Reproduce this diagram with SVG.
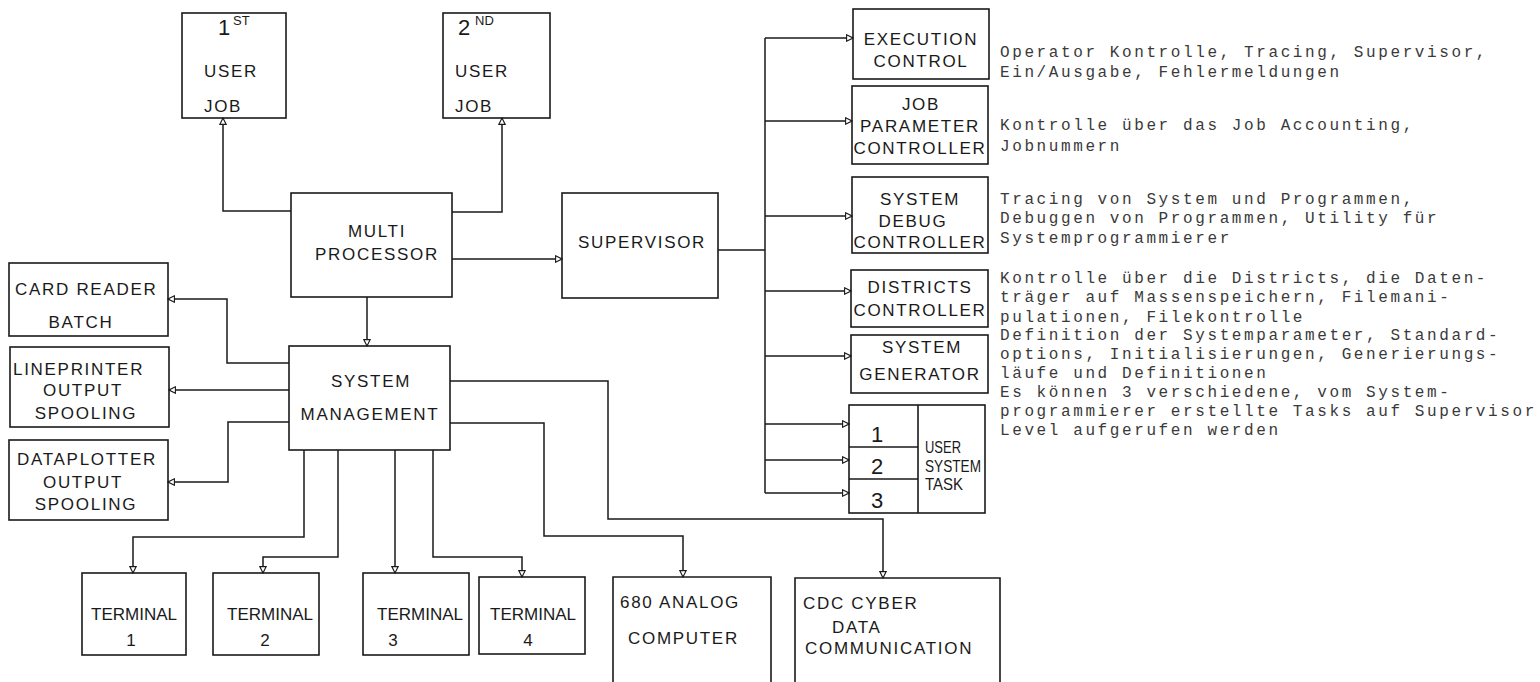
<svg xmlns="http://www.w3.org/2000/svg" width="1540" height="682" viewBox="0 0 1540 682">
<style>
.box{fill:none;stroke:#1a1a1a;stroke-width:1.6}
.ln{fill:none;stroke:#1a1a1a;stroke-width:1.5}
.ar{marker-end:url(#tri)}
.lb{font-family:"Liberation Sans",Arial,sans-serif;font-size:17px;letter-spacing:1.7px;fill:#1a1a1a}
.c{text-anchor:middle}
.tm{font-family:"Liberation Sans",Arial,sans-serif;font-size:17px;fill:#1a1a1a}
.num{font-family:"Liberation Sans",Arial,sans-serif;font-size:22px;fill:#1a1a1a}
.sup{font-family:"Liberation Sans",Arial,sans-serif;font-size:13px;fill:#1a1a1a}
.ds{font-family:"Liberation Mono","DejaVu Sans Mono",monospace;font-size:16px;letter-spacing:2.6px;fill:#3a3a3a}
</style>
<defs>
<marker id="tri" viewBox="0 0 10 10" refX="9" refY="5" markerWidth="9" markerHeight="8" markerUnits="userSpaceOnUse" orient="auto">
<path d="M1,1 L9,5 L1,9 z" fill="#fff" stroke="#1a1a1a" stroke-width="1.4"/>
</marker>
</defs>
<rect width="1540" height="682" fill="#fff"/>

<g id="connectors">
<path class="ln ar" d="M291,211 H223 V118"/>
<path class="ln ar" d="M452,212 H502 V118"/>
<path class="ln ar" d="M452,259 H562"/>
<path class="ln ar" d="M367,297 V346"/>
<path class="ln ar" d="M289,363 H227 V299 H168"/>
<path class="ln ar" d="M289,390 H169"/>
<path class="ln ar" d="M289,422 H228 V482 H168"/>
<path class="ln ar" d="M304,450 V537 H133 V573"/>
<path class="ln ar" d="M338,450 V557 H263 V573"/>
<path class="ln ar" d="M395,450 V573"/>
<path class="ln ar" d="M433,450 V557 H522 V577"/>
<path class="ln ar" d="M450,423 H544 V536 H683 V577"/>
<path class="ln ar" d="M450,381 H608 V519 H883 V578"/>
<path class="ln" d="M718,250 H765 M765,38 V493"/>
<path class="ln ar" d="M765,38 H853"/>
<path class="ln ar" d="M765,121 H852"/>
<path class="ln ar" d="M765,216 H852"/>
<path class="ln ar" d="M765,291 H851"/>
<path class="ln ar" d="M765,356 H851"/>
<path class="ln ar" d="M765,424 H849"/>
<path class="ln ar" d="M765,460 H849"/>
<path class="ln ar" d="M765,493 H849"/>
</g>

<g id="job1">
<rect class="box" x="182" y="13" width="104" height="105"/>
<text class="num" x="218" y="35">1</text><text class="sup" x="233" y="25">ST</text>
<text class="lb" x="204" y="77">USER</text>
<text class="lb" x="204" y="112">JOB</text>
</g>
<g id="job2">
<rect class="box" x="443" y="13" width="107" height="105"/>
<text class="num" x="458" y="35">2</text><text class="sup" x="475" y="25">ND</text>
<text class="lb" x="455" y="77">USER</text>
<text class="lb" x="455" y="112">JOB</text>
</g>
<g id="multiprocessor">
<rect class="box" x="291" y="193" width="161" height="104"/>
<text class="lb c" x="377" y="237">MULTI</text>
<text class="lb c" x="377" y="260">PROCESSOR</text>
</g>
<g id="supervisor">
<rect class="box" x="562" y="193" width="156" height="105"/>
<text class="lb c" x="642" y="248">SUPERVISOR</text>
</g>
<g id="systemmanagement">
<rect class="box" x="289" y="346" width="161" height="104"/>
<text class="lb c" x="371" y="387">SYSTEM</text>
<text class="lb c" x="370" y="420">MANAGEMENT</text>
</g>
<g id="cardreader">
<rect class="box" x="9" y="263" width="159" height="73"/>
<text class="lb" x="15" y="295">CARD READER</text>
<text class="lb c" x="81" y="328">BATCH</text>
</g>
<g id="lineprinter">
<rect class="box" x="10" y="347" width="159" height="80"/>
<text class="lb" x="13" y="375">LINEPRINTER</text>
<text class="lb c" x="83" y="396">OUTPUT</text>
<text class="lb c" x="86" y="419">SPOOLING</text>
</g>
<g id="dataplotter">
<rect class="box" x="9" y="440" width="159" height="80"/>
<text class="lb" x="17" y="465">DATAPLOTTER</text>
<text class="lb c" x="83" y="488">OUTPUT</text>
<text class="lb c" x="86" y="510">SPOOLING</text>
</g>
<g id="terminal1">
<rect class="box" x="82" y="573" width="104" height="82"/>
<text class="tm c" x="134" y="620">TERMINAL</text>
<text class="tm c" x="131" y="646">1</text>
</g>
<g id="terminal2">
<rect class="box" x="213" y="573" width="106" height="82"/>
<text class="tm c" x="270" y="620">TERMINAL</text>
<text class="tm c" x="265" y="646">2</text>
</g>
<g id="terminal3">
<rect class="box" x="363" y="573" width="106" height="82"/>
<text class="tm c" x="420" y="620">TERMINAL</text>
<text class="tm c" x="393" y="646">3</text>
</g>
<g id="terminal4">
<rect class="box" x="479" y="577" width="106" height="77"/>
<text class="tm c" x="533" y="620">TERMINAL</text>
<text class="tm c" x="528" y="646">4</text>
</g>
<g id="analog">
<path class="box" d="M613,690 V577 H771 V690"/>
<text class="lb" x="620" y="608">680 ANALOG</text>
<text class="lb" x="628" y="644">COMPUTER</text>
</g>
<g id="cdc">
<path class="box" d="M795,690 V578 H1000 V690"/>
<text class="lb" x="803" y="609">CDC CYBER</text>
<text class="lb" x="832" y="633">DATA</text>
<text class="lb" x="805" y="654">COMMUNICATION</text>
</g>
<g id="execution">
<rect class="box" x="853" y="9" width="136" height="70"/>
<text class="lb c" x="921" y="45">EXECUTION</text>
<text class="lb c" x="921" y="67">CONTROL</text>
</g>
<g id="jobparameter">
<rect class="box" x="852" y="86" width="136" height="78"/>
<text class="lb c" x="921" y="110">JOB</text>
<text class="lb c" x="920" y="132">PARAMETER</text>
<text class="lb c" x="920" y="154">CONTROLLER</text>
</g>
<g id="systemdebug">
<rect class="box" x="852" y="177" width="136" height="76"/>
<text class="lb c" x="920" y="205">SYSTEM</text>
<text class="lb c" x="913" y="227">DEBUG</text>
<text class="lb c" x="920" y="248">CONTROLLER</text>
</g>
<g id="districts">
<rect class="box" x="851" y="270" width="137" height="57"/>
<text class="lb c" x="920" y="293">DISTRICTS</text>
<text class="lb c" x="920" y="316">CONTROLLER</text>
</g>
<g id="generator">
<rect class="box" x="851" y="335" width="137" height="58"/>
<text class="lb c" x="922" y="353">SYSTEM</text>
<text class="lb c" x="920" y="380">GENERATOR</text>
</g>
<g id="usersystemtask">
<rect class="box" x="849" y="405" width="136" height="108"/>
<path class="box" d="M918,405 V513 M849,447 H918 M849,479 H918"/>
<text class="num c" x="877" y="442">1</text>
<text class="num c" x="877" y="474">2</text>
<text class="num c" x="877" y="508">3</text>
<text class="tm" x="925" y="453" font-size="15" textLength="36" lengthAdjust="spacingAndGlyphs">USER</text>
<text class="tm" x="925" y="472" font-size="15" textLength="56" lengthAdjust="spacingAndGlyphs">SYSTEM</text>
<text class="tm" x="925" y="490" font-size="15" textLength="38" lengthAdjust="spacingAndGlyphs">TASK</text>
</g>

<g id="descriptions">
<text class="ds" x="1000" y="57">Operator Kontrolle, Tracing, Supervisor,</text>
<text class="ds" x="1000" y="77">Ein/Ausgabe, Fehlermeldungen</text>
<text class="ds" x="1000" y="130">Kontrolle über das Job Accounting,</text>
<text class="ds" x="1000" y="151">Jobnummern</text>
<text class="ds" x="1000" y="204">Tracing von System und Programmen,</text>
<text class="ds" x="1000" y="223">Debuggen von Programmen, Utility für</text>
<text class="ds" x="1000" y="243">Systemprogrammierer</text>
<text class="ds" x="1000" y="283">Kontrolle über die Districts, die Daten-</text>
<text class="ds" x="1000" y="302">träger auf Massenspeichern, Filemani-</text>
<text class="ds" x="1000" y="322">pulationen, Filekontrolle</text>
<text class="ds" x="1000" y="340">Definition der Systemparameter, Standard-</text>
<text class="ds" x="1000" y="359">options, Initialisierungen, Generierungs-</text>
<text class="ds" x="1000" y="378">läufe und Definitionen</text>
<text class="ds" x="1000" y="397">Es können 3 verschiedene, vom System-</text>
<text class="ds" x="1000" y="416">programmierer erstellte Tasks auf Supervisor</text>
<text class="ds" x="1000" y="435">Level aufgerufen werden</text>
</g>
</svg>
